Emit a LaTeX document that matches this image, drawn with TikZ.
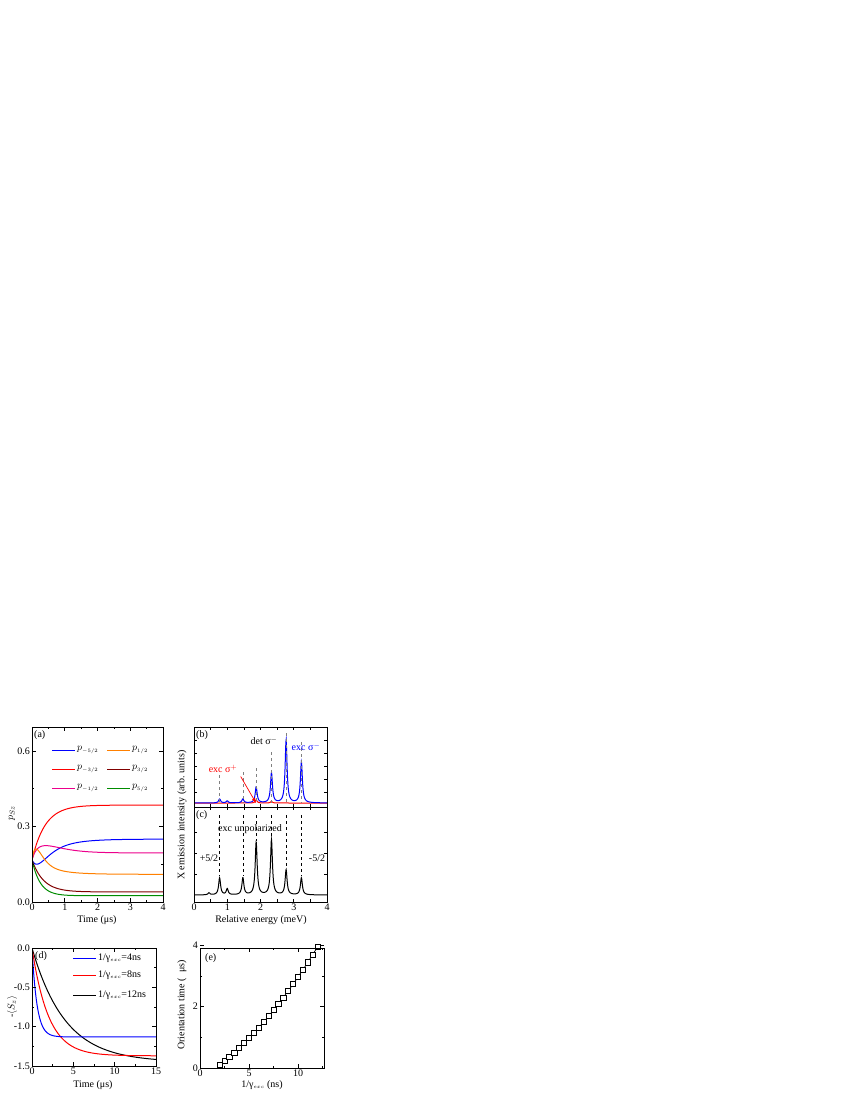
\documentclass[tikz,border=0pt]{standalone}
\usepackage{fontspec}
\setmainfont{Liberation Serif}
\begin{document}
\begin{tikzpicture}[x=1pt,y=-1pt,font=\fontsize{10}{11}\selectfont,
  ax/.style={line width=0.6pt},
  crv/.style={line width=1pt},
  lab/.style={inner sep=1pt}]
\useasboundingbox (0,0) rectangle (850,1100);
% ================= (a) =================
\begin{scope}
\clip (32,727) rectangle (163,902);
\draw[crv,red] plot[domain=0:4,samples=120] ({32+\x*32.75},{902-251.7*(0.385-0.218*exp(-\x/0.4))});
\draw[crv,blue] plot[domain=0:4,samples=120] ({32+\x*32.75},{902-251.7*(0.25-0.083*exp(-\x/0.7)-0.4*\x*exp(-\x/0.25))});
\draw[crv,magenta] plot[domain=0:4,samples=120] ({32+\x*32.75},{902-251.7*(0.195-0.028*exp(-\x/0.1)+0.2*\x*exp(-\x/0.4))});
\draw[crv,orange] plot[domain=0:4,samples=120] ({32+\x*32.75},{902-251.7*(0.11+0.057*exp(-\x/0.6)+1.0*\x*exp(-\x/0.15))});
\draw[crv,red!50!black] plot[domain=0:4,samples=120] ({32+\x*32.75},{902-251.7*(0.04+0.127*exp(-\x/0.35))});
\draw[crv,green!55!black] plot[domain=0:4,samples=120] ({32+\x*32.75},{902-251.7*(0.025+0.142*exp(-\x/0.25))});
\end{scope}
\draw[ax] (32,727) rectangle (163,902);
\foreach \t in {0,...,4} {\draw[ax] ({32+\t*32.75},902) -- ++(0,-4) ({32+\t*32.75},727) -- ++(0,4);
  \node[lab,below] at ({32+\t*32.75},903) {\t};}
\foreach \t in {0.5,1.5,2.5,3.5} {\draw[ax] ({32+\t*32.75},902) -- ++(0,-2) ({32+\t*32.75},727) -- ++(0,2);}
\foreach \p/\l in {0/0.0,0.3/0.3,0.6/0.6} {\draw[ax] (32,{902-251.7*\p}) -- ++(4,0) (163,{902-251.7*\p}) -- ++(-4,0);
  \node[lab,left] at (31,{902-251.7*\p}) {\l};}
\foreach \p in {0.15,0.45} {\draw[ax] (32,{902-251.7*\p}) -- ++(2,0) (163,{902-251.7*\p}) -- ++(-2,0);}
\node[lab,anchor=north west] (la) at (33,729) {(a)};
\node[rotate=90] (ya) at (12,813) {$p_{Sz}$};
\node (xa) at (97,920) {Time (μs)};
\foreach \yy/\c/\l in {750/blue/{-5/2},769/red/{-3/2},788/magenta/{-1/2}} {
  \draw[crv,\c] (52,\yy) -- (75,\yy); \node[lab,right] at (76,\yy) {$p_{\scriptscriptstyle\l}$};}
\foreach \yy/\c/\l in {750/orange/{1/2},769/red!50!black/{3/2},788/green!55!black/{5/2}} {
  \draw[crv,\c] (107,\yy) -- (130,\yy); \node[lab,right] at (131,\yy) {$p_{\scriptscriptstyle\l}$};}
% ================= (b),(c) =================
\def\lor#1#2{#1/(1+((\x-#2)/0.035)^2)}
\begin{scope}
\clip (194,727) rectangle (327,807);
\draw[crv,red] plot[domain=0:4,samples=500] ({194+\x*33.25},{803-\lor{3}{1.87}-\lor{1.5}{2.33}});
\draw[crv,blue] plot[domain=0:4,samples=500] ({194+\x*33.25},{803-\lor{4}{0.77}-\lor{2}{1.0}-\lor{4}{1.47}-\lor{16}{1.87}-\lor{30}{2.33}-\lor{63}{2.77}-\lor{41}{3.23}});
\end{scope}
\begin{scope}
\clip (194,807) rectangle (327,902);
\draw[crv,black] plot[domain=0:4,samples=500] ({194+\x*33.25},{895-\lor{2}{0.45}-\lor{17}{0.77}-\lor{6}{1.0}-\lor{17}{1.47}-\lor{53}{1.87}-\lor{55}{2.33}-\lor{25}{2.77}-\lor{17}{3.23}});
\end{scope}
\foreach \e/\ytop/\yc in {0.77/775/876,1.47/772/876,1.87/768/841,2.33/752/839,2.77/733/868,3.23/742/876} {
  \draw[gray,dashed,line width=0.5pt] ({194+\e*33.25},\ytop) -- ({194+\e*33.25},803);
  \draw[black,dashed,line width=0.5pt] ({194+\e*33.25},815) -- ({194+\e*33.25},\yc);}
\draw[ax] (194,727) rectangle (327,807);
\draw[ax] (194,807) rectangle (327,902);
\foreach \t in {0,...,4} {\node[lab,below] at ({194+\t*33.25},903) {\t};}
\foreach \t in {0,0.5,...,4} {
  \draw[ax] ({194+\t*33.25},902) -- ++(0,-3) ({194+\t*33.25},807) -- ++(0,3) ({194+\t*33.25},807) -- ++(0,-3) ({194+\t*33.25},727) -- ++(0,3);}
\foreach \yy in {740,753,766,779,792} {\draw[ax] (194,\yy) -- ++(3,0) (327,\yy) -- ++(-3,0);}
\foreach \yy in {832,853,874} {\draw[ax] (194,\yy) -- ++(3,0) (327,\yy) -- ++(-3,0);}
\node[lab,anchor=north west] (lb) at (195,729) {(b)};
\node[lab,anchor=north west] (lc) at (195,809) {(c)};
\node (det) at (264,741) {det σ$^{-}$};
\node[blue] (exm) at (306,747) {exc σ$^{-}$};
\node[red] (exp) at (223,769) {exc σ$^{+}$};
\coordinate (arr) at (256,803);
\draw[red,line width=0.7pt,-latex] (exp.south east) -- (arr);
\node (unp) at (250,829) {exc unpolarized};
\node (p52) at (209,858) {+5/2};
\node (m52) at (317,858) {-5/2};
\node[rotate=90] (yb) at (182,815) {X emission intensity (arb. units)};
\node (xb) at (261,920) {Relative energy (meV)};
% ================= (d) =================
\begin{scope}
\clip (32,948) rectangle (156,1066);
\draw[crv,black] plot[domain=0:15,samples=150] ({32+\x*8.27},{948+78.7*1.45*(1-exp(-\x/4))});
\draw[crv,red] plot[domain=0:15,samples=150] ({32+\x*8.27},{948+78.7*1.37*(1-exp(-\x/2))});
\draw[crv,blue] plot[domain=0:15,samples=150] ({32+\x*8.27},{948+78.7*1.13*(1-exp(-\x/0.6))});
\end{scope}
\draw[ax] (32,948) rectangle (156,1066);
\foreach \t in {0,5,10,15} {\draw[ax] ({32+\t*8.27},1066) -- ++(0,-4) ({32+\t*8.27},948) -- ++(0,4);
  \node[lab,below] at ({32+\t*8.27},1067) {\t};}
\foreach \t in {2.5,7.5,12.5} {\draw[ax] ({32+\t*8.27},1066) -- ++(0,-2) ({32+\t*8.27},948) -- ++(0,2);}
\foreach \v/\l in {0/0.0,0.5/-0.5,1/-1.0,1.5/-1.5} {\draw[ax] (32,{948+78.7*\v}) -- ++(4,0) (156,{948+78.7*\v}) -- ++(-4,0);
  \node[lab,left] at (31,{948+78.7*\v}) {\l};}
\foreach \v in {0.25,0.75,1.25} {\draw[ax] (32,{948+78.7*\v}) -- ++(2,0) (156,{948+78.7*\v}) -- ++(-2,0);}
\node[lab,anchor=north west] (ld) at (34,950) {(d)};
\foreach \yy/\c/\l in {958/blue/4,975/red/8,995/black/12} {
  \draw[crv,\c] (73,\yy) -- (96,\yy); \node[lab,right] at (97,\yy) {1/γ$_{\scriptscriptstyle exc}$=\l ns};}
\node[rotate=90] (yd) at (12,1007) {-$\langle S_z\rangle$};
\node (xd) at (93,1085) {Time (μs)};
% ================= (e) =================
\draw[line width=0.7pt] plot[domain=2:12,samples=21] ({200+\x*9.8},{1068-30.7*(0.1+0.25*(\x-2)+0.0135*(\x-2)^2)});
\foreach \x in {2,2.5,...,12} {
  \draw[line width=0.7pt,fill=white] ({200+\x*9.8-2.6},{1068-30.7*(0.1+0.25*(\x-2)+0.0135*(\x-2)^2)-2.6}) rectangle ++(5.2,5.2);}
\draw[ax] (200,948) rectangle (324,1068);
\foreach \t in {0,5,10} {\draw[ax] ({200+\t*9.8},1068) -- ++(0,-4) ({200+\t*9.8},948) -- ++(0,4);
  \node[lab,below] at ({200+\t*9.8},1069) {\t};}
\foreach \t in {2.5,7.5,12.5} {\draw[ax] ({200+\t*9.8},1068) -- ++(0,-2) ({200+\t*9.8},948) -- ++(0,2);}
\foreach \v in {0,2,4} {\draw[ax] (200,{1068-30.7*\v}) -- ++(4,0) (324,{1068-30.7*\v}) -- ++(-4,0);
  \node[lab,left] at (199,{1068-30.7*\v}) {\v};}
\foreach \v in {1,3} {\draw[ax] (200,{1068-30.7*\v}) -- ++(2,0) (324,{1068-30.7*\v}) -- ++(-2,0);}
\node[lab,anchor=north west] (le) at (204,952) {(e)};
\node[rotate=90] (ye) at (182,1005) {Orientation time (\enspace μs)};
\node (xe) at (262,1085) {1/γ$_{\scriptscriptstyle exc}$ (ns)};
\end{tikzpicture}
\end{document}
